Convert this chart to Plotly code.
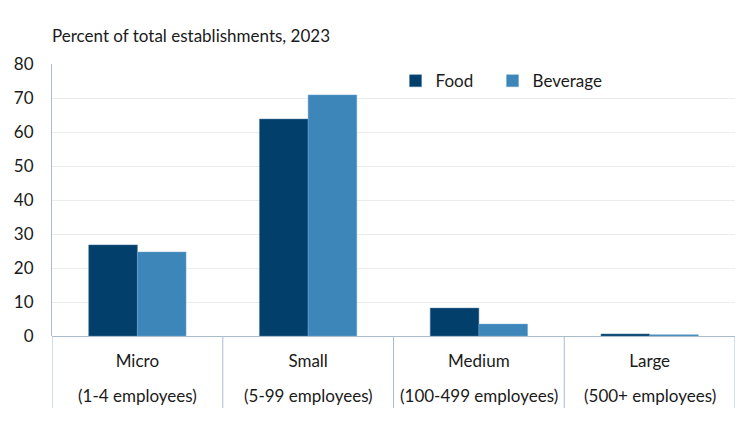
import plotly.graph_objects as go

# Data
sizes = ["Micro", "Small", "Medium", "Large"]
size_notes = ["(1-4 employees)", "(5-99 employees)", "(100-499 employees)", "(500+ employees)"]
food = [26.8, 63.8, 8.2, 0.6]
beverage = [24.7, 70.9, 3.5, 0.4]
y_ticks = [0, 10, 20, 30, 40, 50, 60, 70, 80]

FONT = "Lato, 'Open Sans', sans-serif"
AXIS_COLOR = "#a9bccf"

fig = go.Figure()

fig.add_trace(go.Bar(
    x=sizes, y=food, name="Food", legend="legend",
    marker=dict(color="#023f6b", line=dict(color="#4a7aa0", width=0.5)),
))
fig.add_trace(go.Bar(
    x=sizes, y=beverage, name="Beverage", legend="legend2",
    marker=dict(color="#3c86ba", line=dict(color="#6fa5cc", width=0.5)),
))

# Vertical dividers between the category labels
for i in range(len(sizes) + 1):
    fig.add_shape(
        type="line", xref="x", yref="paper",
        x0=i - 0.5, x1=i - 0.5, y0=0, y1=-0.265,
        line=dict(color=AXIS_COLOR, width=1),
    )

# Second line of each category label
for s, note in zip(sizes, size_notes):
    fig.add_annotation(
        x=s, y=-0.217, xref="x", yref="paper", yanchor="middle", text=note,
        showarrow=False, font=dict(size=17, color="#1a1a1a", family=FONT),
    )

fig.add_annotation(
    x=-0.003, y=1.06, xref="paper", yref="paper", xanchor="left", yanchor="bottom",
    text="Percent of total establishments, 2023", showarrow=False,
    font=dict(size=17, color="#1a1a1a", family=FONT),
)

leg = dict(
    orientation="h", y=1.003, xanchor="left", yanchor="top",
    font=dict(size=17), itemwidth=30, bgcolor="rgba(0,0,0,0)",
)

# page body adds an 8px offset, so the figure is a bit smaller than the window
fig.update_layout(
    width=742, height=414,
    margin=dict(l=44, r=15, t=56, b=86),
    paper_bgcolor="white", plot_bgcolor="white",
    barmode="group", bargap=0.43, bargroupgap=0,
    font=dict(family=FONT, size=17, color="#1a1a1a"),
    showlegend=True,
    legend=dict(leg, x=0.503),
    legend2=dict(leg, x=0.645),
)

fig.update_xaxes(
    showgrid=False, showline=False, ticks="", automargin=False,
    tickfont=dict(size=17), ticklabelstandoff=13,
    range=[-0.5, 3.5],
)
fig.update_yaxes(
    range=[0, 80], tickvals=y_ticks, automargin=False,
    showgrid=True, gridcolor="#ececec", gridwidth=1,
    showline=True, linecolor=AXIS_COLOR, linewidth=1,
    zeroline=True, zerolinecolor=AXIS_COLOR, zerolinewidth=1,
    ticks="", ticklabelstandoff=14, tickfont=dict(size=17),
)

fig.write_html("out.html")
